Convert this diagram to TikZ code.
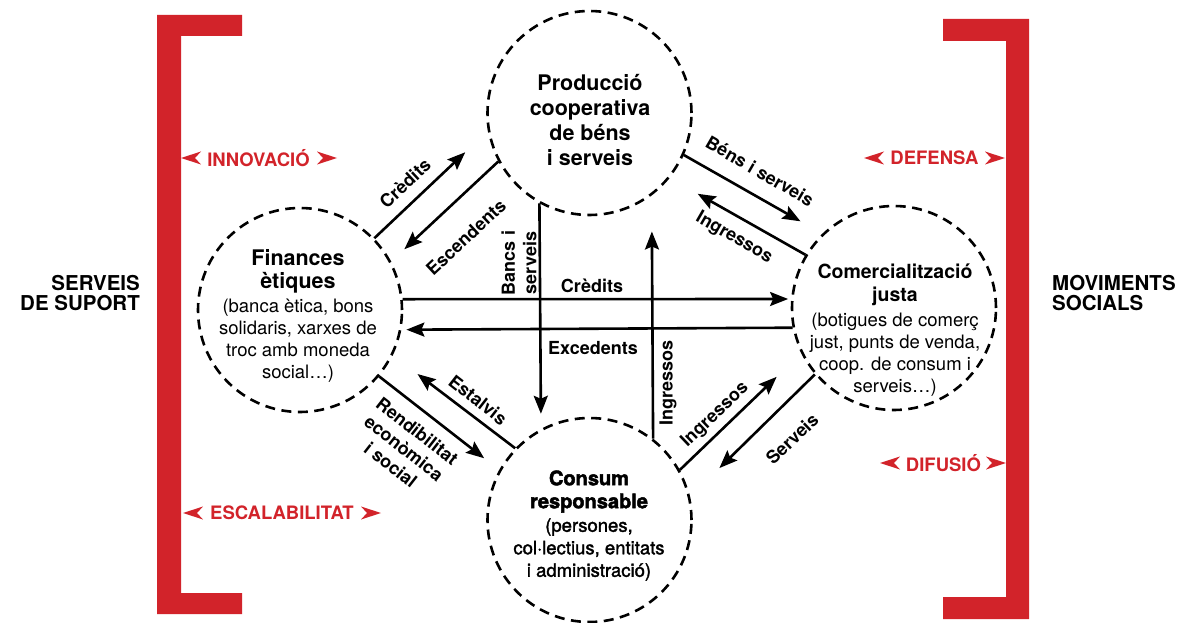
\documentclass[tikz,border=0pt]{standalone}
\usepackage{fontspec}
\setmainfont{TeX Gyre Heros}
\newfontface\medfont{texgyreheros-regular.otf}[FakeBold=1.8]
\newfontface\heavyfont{texgyreheros-bold.otf}[FakeBold=2.2]
\usetikzlibrary{arrows.meta}
\definecolor{brandred}{HTML}{D2232A}
\tikzset{
  circ/.style={circle, draw=black, line width=2.6pt, dash pattern=on 10pt off 6.5pt, minimum size=204pt, inner sep=0pt},
  flow/.style={line width=2.6pt, -{Stealth[length=18pt,width=14pt,inset=3pt]}},
  head/.style={align=center, inner sep=0pt, font=\bfseries\fontsize{21.5}{24}\selectfont},
  sub/.style={align=center, inner sep=0pt, font=\fontsize{18.5}{22}\selectfont},
  lab/.style={inner sep=0pt, font=\bfseries\fontsize{18}{21.5}\selectfont},
  side/.style={inner sep=0pt, font=\bfseries\fontsize{20.5}{19.5}\selectfont},
  redlab/.style={inner sep=0pt, text=brandred, font=\bfseries\fontsize{18.5}{20}\selectfont},
  chev/.pic={\fill[brandred] (0,0) -- (-20,6.5) -- (-14,0) -- (-20,-6.5) -- cycle;}
}
\begin{document}
\begin{tikzpicture}[x=1pt,y=-1pt]
\useasboundingbox (0,0) rectangle (1187,623);
% brackets
\fill[brandred] (242,15) -- (157,15) -- (157,614) -- (242,614) -- (242,593) -- (181,593) -- (181,36) -- (242,36) -- cycle;
\fill[brandred] (943,19) -- (1029,19) -- (1029,619) -- (943,619) -- (943,597) -- (1006,597) -- (1006,41) -- (943,41) -- cycle;
% red labels
\node[redlab] (innov) at (258.5,158) {INNOVACIÓ};
\pic at (337,158) {chev};
\pic[rotate=180] at (181,158) {chev};
\node[redlab] (defen) at (934.5,158) {DEFENSA};
\pic at (1005,158) {chev};
\pic[rotate=180] at (864,158) {chev};
\node[redlab] (difus) at (943.5,463) {DIFUSIÓ};
\pic at (1006,463) {chev};
\pic[rotate=180] at (880,463) {chev};
\node[redlab] (escal) at (282,513) {ESCALABILITAT};
\pic at (381,513) {chev};
\pic[rotate=180] at (183,513) {chev};
% side labels
\node[side, anchor=east, align=right] (sup) at (140,293) {SERVEIS\\DE SUPORT};
\node[side, anchor=west, align=left] (mov) at (1052,293) {MOVIMENTS\\SOCIALS};
% circles
\node[circ] (T) at (589.5,113) {};
\node[circ] (L) at (300,310) {};
\node[circ] (R) at (894,308) {};
\node[circ] (B) at (589.5,520) {};
% circle texts
\node[head, font=\bfseries\fontsize{21.5}{25}\selectfont] (Th) at (590,120) {Producció\\cooperativa\\de béns\\i serveis};
\node[head, font=\bfseries\fontsize{21.5}{23}\selectfont] (Lh) at (298,271.5) {Finances\\ètiques};
\node[sub] (Ls) at (298,340.5) {(banca ètica, bons\\solidaris, xarxes de\\troc amb moneda\\social…)};
\node[head, font=\bfseries\fontsize{19.5}{23.5}\selectfont] (Rh) at (895,285) {Comercialització\\justa};
\node[sub] (Rs) at (895,354.5) {(botigues de comerç\\just, punts de venda,\\coop. de consum i\\serveis…)};
\node[head, font=\heavyfont\fontsize{20}{23}\selectfont] (Bh) at (589,491.5) {Consum\\responsable};
\node[sub, font=\medfont\fontsize{18.5}{22.5}\selectfont] (Bs) at (589,549.5) {(persones,\\col·lectius, entitats\\i administració)};
% connectors
\draw[flow, shorten >=31pt] (L.44) -- (T.190.5);
\draw[flow, shorten >=18pt] (T.208) -- (L.28);
\draw[flow, shorten >=25pt] (T.336) -- (R.134.6);
\draw[flow, shorten >=32pt] (R.149) -- (T.321.5);
\draw[flow, shorten >=31pt] (B.136) -- (L.334.7);
\draw[flow, shorten >=19pt] (L.320) -- (B.151);
\draw[flow, shorten >=34pt] (B.29) -- (R.206.7);
\draw[flow, shorten >=41pt] (R.220) -- (B.13.2);
\draw[flow, shorten >=15pt] (T.241.6) -- (B.118.4);
\draw[flow, shorten >=36pt] (B.52.2) -- (T.307.8);
\draw[flow, shorten >=3pt] (L.6.2) -- (R.175);
\draw[flow, shorten >=5pt] (R.191.2) -- (L.349.8);
% connector labels
\node[lab, rotate=43] (lc1) at (405,183) {Crèdits};
\node[lab, rotate=43] (le1) at (466,237) {Escendents};
\node[lab, rotate=-30] (lb) at (760,171) {Béns i serveis};
\node[lab, rotate=-30] (li1) at (734,238) {Ingressos};
\node[lab, rotate=-38] (les) at (478,400) {Estalvis};
\node[lab, rotate=-38, align=center] (lr) at (404,448) {Rendibilitat\\econòmica\\i social};
\node[lab, rotate=43.5] (li2) at (715,415) {Ingressos};
\node[lab, rotate=43.5] (ls) at (792,439) {Serveis};
\node[lab, rotate=90, align=center] (lbs) at (519,263) {Bancs i\\serveis};
\node[lab] (lc2) at (592,286) {Crèdits};
\node[lab] (lex) at (593,348) {Excedents};
\node[lab, rotate=90] (li3) at (668,383) {Ingressos};
\end{tikzpicture}
\end{document}
